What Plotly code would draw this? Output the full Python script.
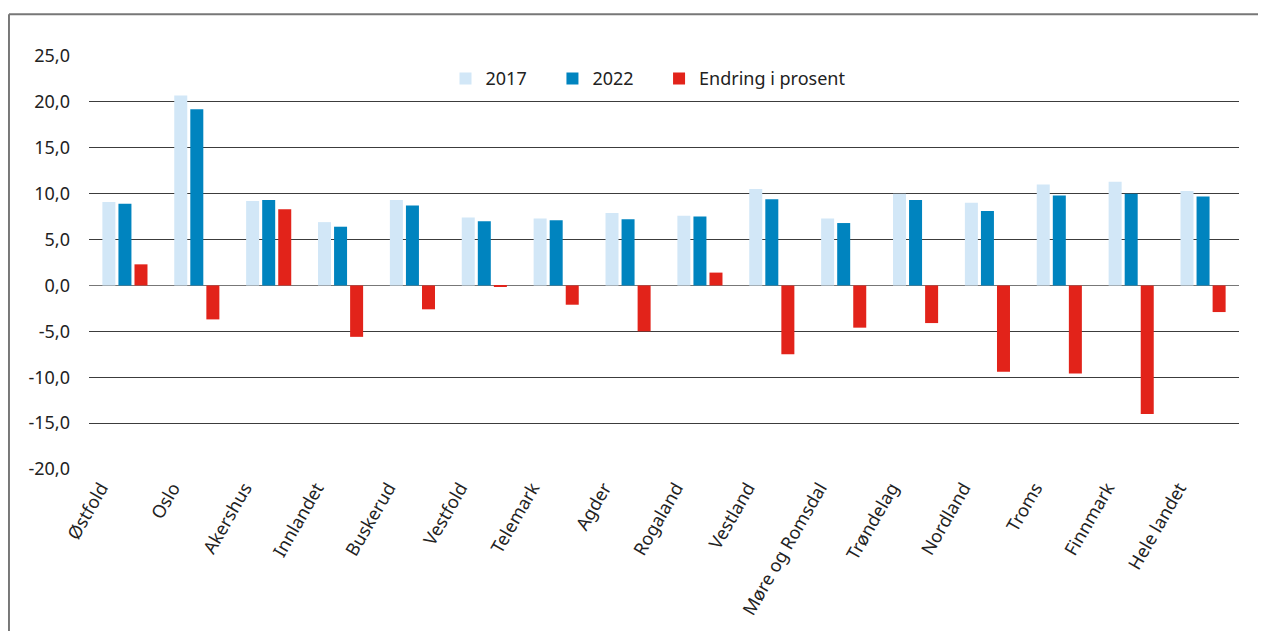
import plotly.graph_objects as go

categories = ["Østfold", "Oslo", "Akershus", "Innlandet", "Buskerud", "Vestfold",
              "Telemark", "Agder", "Rogaland", "Vestland", "Møre og Romsdal",
              "Trøndelag", "Nordland", "Troms", "Finnmark", "Hele landet"]
v2017 = [9.1, 20.7, 9.2, 6.9, 9.3, 7.4, 7.3, 7.9, 7.6, 10.5, 7.3, 10.0, 9.0, 11.0, 11.3, 10.3]
v2022 = [8.9, 19.2, 9.3, 6.4, 8.7, 7.0, 7.1, 7.2, 7.5, 9.4, 6.8, 9.3, 8.1, 9.8, 10.0, 9.7]
endring = [2.3, -3.7, 8.3, -5.6, -2.6, -0.1, -2.1, -5.0, 1.4, -7.5, -4.6, -4.1, -9.4, -9.6, -14.0, -2.9]
series_names = ["2017", "2022", "Endring i prosent"]
tick_vals = [25, 20, 15, 10, 5, 0, -5, -10, -15, -20]
tick_text = ["25,0", "20,0", "15,0", "10,0", "5,0", "0,0", "-5,0", "-10,0", "-15,0", "-20,0"]

colors = ["#d2e7f7", "#0084bf", "#e2231a"]
legend_ids = ["legend", "legend2", "legend3"]
legend_x = [0.31, 0.403, 0.4957]
font_family = "Noto Sans, Open Sans, sans-serif"

fig = go.Figure()
for name, vals, col, lid in zip(series_names, [v2017, v2022, endring], colors, legend_ids):
    fig.add_trace(go.Bar(x=categories, y=vals, name=name, marker_color=col,
                         marker_line_width=0, legend=lid))

legend_common = dict(orientation="h", y=0.945, xanchor="left", yanchor="middle",
                     font=dict(size=18, color="#222"), bgcolor="rgba(0,0,0,0)")
fig.update_layout(
    width=1258, height=623,
    paper_bgcolor="white", plot_bgcolor="white",
    margin=dict(l=81, r=27, t=48, b=159),
    barmode="group", bargap=0.33, bargroupgap=0.19,
    font=dict(family=font_family, size=18, color="#222"),
    legend=dict(x=legend_x[0], **legend_common),
    legend2=dict(x=legend_x[1], **legend_common),
    legend3=dict(x=legend_x[2], **legend_common),
    showlegend=True,
)
fig.update_xaxes(tickangle=-60, showgrid=False, showline=False, ticks="",
                 tickfont=dict(size=18, color="#222"),
                 ticklabelshift=-24, ticklabelstandoff=4)
fig.update_yaxes(range=[-20, 25], tickvals=tick_vals, ticktext=tick_text,
                 showgrid=True, gridcolor="#3c3c3c", gridwidth=1,
                 zeroline=True, zerolinecolor="#777", zerolinewidth=1,
                 showline=False, ticks="", ticklabelstandoff=18,
                 tickfont=dict(size=18, color="#222"))

# outer frame (left and top edges)
fig.add_shape(type="line", xref="paper", yref="paper",
              x0=-0.0696, x1=-0.0696, y0=1.101, y1=-0.45,
              line=dict(color="#777", width=2))
fig.add_shape(type="line", xref="paper", yref="paper",
              x0=-0.0696, x1=1.04, y0=1.101, y1=1.101,
              line=dict(color="#777", width=2))

fig.write_html("out.html")
